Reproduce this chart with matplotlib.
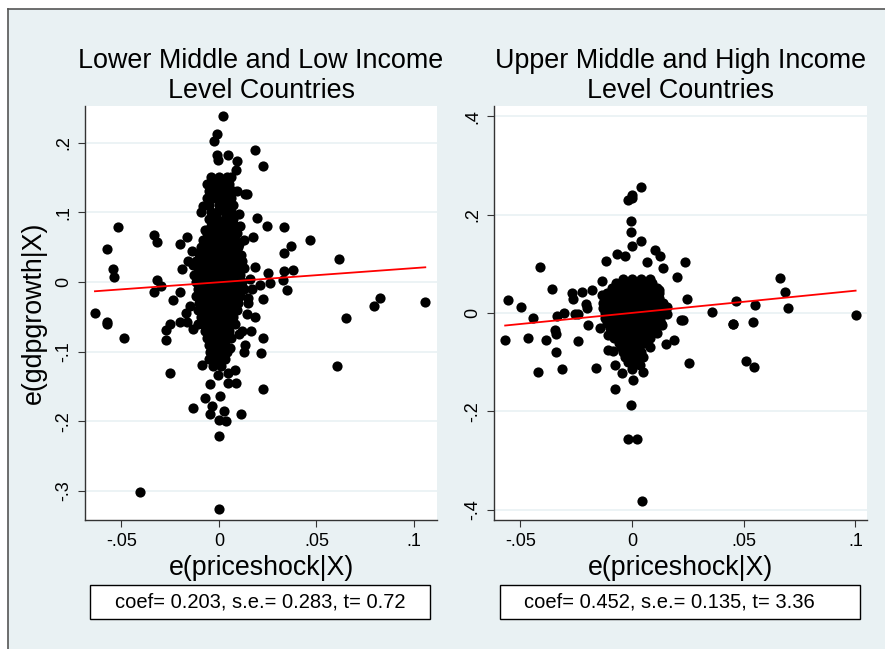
import matplotlib.pyplot as plt
import numpy as np
from matplotlib.patches import Rectangle

plt.rcParams['font.family'] = ['Liberation Sans', 'DejaVu Sans']

# ---- Lower middle and low income: points off the main cloud ----
low_x = [0.0019, -0.0009, -0.0024, 0.0186, 0.0224, 0.0046, -0.0009, -0.0005, 0.0094, 0.0085,
         0.0142, 0.0133, 0.0103, 0.0197, 0.0248, 0.0333, 0.0467, 0.0371, 0.0335, 0.0615,
         0.0381, 0.0333, 0.0326, 0.0350, 0.0174, 0.0101, 0.0111, -0.0518, -0.0573, -0.0545,
         -0.0537, -0.0332, -0.0320, -0.0320, -0.0333, -0.0296, -0.0636, -0.0573, 0.0650, 0.0797,
         0.0824, 0.1058, -0.0164, -0.0200, -0.0191, -0.0200, -0.0234, -0.0200, -0.0253, 0.0227,
         0.0185, 0.0144, 0.0151, 0.0185, 0.0251, 0.0210, 0.0262, -0.0080, -0.0072, -0.0132,
         -0.0576, -0.0486, -0.0272, -0.0272, -0.0166, -0.0132, -0.0250, -0.0132, -0.0405, -0.0002,
         0.0002, 0.0036, -0.0002, -0.0046, 0.0026, -0.0036, 0.0111, 0.0224, 0.0087, 0.0046,
         -0.0072, 0.0003, -0.0046, 0.0082, 0.0046, -0.0089, -0.0003, 0.0603, 0.0215, 0.0128,
         0.0133, 0.0227, 0.0162, 0.0104, 0.0056, -0.0046, -0.0014,
         -0.0140, -0.0160, -0.0150, -0.0170, 0.0160, 0.0150, 0.0170, 0.0130, 0.0110, -0.0090,
         0.0090, -0.0110, 0.0120]
low_y = [0.238, 0.212, 0.202, 0.190, 0.166, 0.182, 0.182, 0.175, 0.174, 0.160,
         0.126, 0.126, 0.097, 0.092, 0.081, 0.079, 0.060, 0.052, 0.041, 0.033,
         0.017, 0.016, 0.003, -0.011, 0.064, 0.055, 0.039, 0.079, 0.047, 0.019,
         0.007, 0.068, 0.057, 0.003, -0.014, -0.006, -0.044, -0.058, -0.051, -0.034,
         -0.023, -0.029, 0.064, 0.054, 0.019, -0.015, -0.026, -0.058, -0.060, -0.024,
         -0.050, -0.046, -0.023, 0.022, 0.013, -0.005, -0.001, 0.109, 0.075, 0.024,
         -0.060, -0.080, -0.069, -0.083, -0.058, -0.068, -0.131, -0.181, -0.301, -0.326,
         -0.221, -0.200, -0.198, -0.190, -0.185, -0.178, -0.190, -0.153, -0.145, -0.145,
         -0.166, -0.164, -0.147, -0.126, -0.131, -0.119, -0.133, -0.121, -0.102, -0.101,
         -0.090, -0.080, -0.071, -0.074, -0.094, -0.101, -0.108,
         0.045, 0.030, -0.035, -0.045, 0.005, -0.030, -0.010, 0.060, 0.080, 0.100,
         0.130, -0.060, -0.070]

# main cloud, read row by row: (y, [x values])
low_core = [
    (0.15, [-0.004, 0.000, 0.004, 0.006]),
    (0.14, [-0.006, -0.002, 0.002, 0.005]),
    (0.13, [-0.005, -0.001, 0.003, 0.007]),
    (0.12, [-0.006, -0.002, 0.002, 0.006]),
    (0.11, [-0.005, 0.000, 0.004, 0.007]),
    (0.10, [-0.004, -0.001, 0.003, 0.006]),
    (0.09, [-0.005, -0.001, 0.003, 0.007]),
    (0.08, [-0.004, 0.000, 0.004, 0.008]),
    (0.07, [-0.006, -0.002, 0.002, 0.006, 0.009]),
    (0.06, [-0.008, -0.004, 0.000, 0.004, 0.008]),
    (0.05, [-0.009, -0.005, -0.001, 0.003, 0.007, 0.010]),
    (0.04, [-0.010, -0.006, -0.002, 0.002, 0.006, 0.010]),
    (0.03, [-0.012, -0.008, -0.004, 0.000, 0.004, 0.008, 0.012]),
    (0.02, [-0.011, -0.007, -0.003, 0.001, 0.005, 0.009, 0.013]),
    (0.01, [-0.013, -0.009, -0.005, -0.001, 0.003, 0.007, 0.011]),
    (0.00, [-0.012, -0.008, -0.004, 0.000, 0.004, 0.008, 0.012]),
    (-0.01, [-0.011, -0.007, -0.003, 0.001, 0.005, 0.009, 0.013]),
    (-0.02, [-0.012, -0.008, -0.004, 0.000, 0.004, 0.008, 0.011]),
    (-0.03, [-0.010, -0.006, -0.002, 0.002, 0.006, 0.010]),
    (-0.04, [-0.011, -0.007, -0.003, 0.001, 0.005, 0.009]),
    (-0.05, [-0.009, -0.005, -0.001, 0.003, 0.007]),
    (-0.06, [-0.008, -0.004, 0.000, 0.004, 0.008]),
    (-0.07, [-0.007, -0.003, 0.001, 0.005]),
    (-0.08, [-0.006, -0.002, 0.002, 0.006]),
    (-0.09, [-0.005, -0.001, 0.003]),
    (-0.10, [-0.004, 0.000, 0.004]),
    (-0.11, [-0.005, -0.001, 0.003]),
    (-0.12, [-0.003, 0.001]),
]

# ---- Upper middle and high income ----
high_x = [0.0039, 0.0001, -0.0017, 0.0000, -0.0006, -0.0006, 0.0039, -0.0002, -0.0066, -0.0031,
          0.0103, 0.0125, 0.0237, 0.0137, 0.0066, -0.0116, -0.0412, 0.0200, 0.0662, 0.0685,
          0.0700, 0.0466, 0.0552, 0.0359, 0.1001, 0.0245, 0.0121, -0.0554, -0.0498, -0.0358,
          -0.0442, -0.0270, -0.0266, -0.0225, -0.0180, -0.0133, -0.0136, -0.0206, -0.0203, -0.0303,
          -0.0337, -0.0255, -0.0243, 0.0451, 0.0540, 0.0218, 0.0155, 0.0158, 0.0131, 0.0134,
          -0.0568, -0.0464, -0.0385, -0.0240, -0.0340, -0.0422, -0.0313, -0.0161, -0.0340, -0.0345,
          -0.0198, -0.0142, -0.0108, -0.0106, -0.0083, -0.0077, -0.0045, -0.0078, -0.0004, -0.0017,
          0.0021, 0.0043, 0.0003, 0.0051, 0.0036, -0.0001, 0.0081, 0.0152, 0.0188, 0.0257,
          0.0451, 0.0510, 0.0546, 0.0226, 0.0112, -0.0013]
high_y = [0.256, 0.240, 0.230, 0.233, 0.187, 0.165, 0.147, 0.137, 0.121, 0.116,
          0.128, 0.115, 0.104, 0.092, 0.104, 0.106, 0.094, 0.074, 0.071, 0.042,
          0.010, 0.025, 0.016, 0.003, -0.005, 0.028, 0.047, 0.026, 0.012, 0.049,
          -0.010, 0.040, 0.028, 0.042, 0.047, 0.065, 0.036, 0.018, 0.010, 0.001,
          -0.006, -0.003, -0.003, -0.022, -0.018, -0.014, 0.012, -0.002, -0.006, -0.024,
          -0.055, -0.050, -0.055, -0.057, -0.079, -0.121, -0.113, -0.111, -0.043, -0.035,
          -0.024, -0.030, -0.045, -0.075, -0.078, -0.155, -0.123, -0.106, -0.187, -0.257,
          -0.257, -0.383, -0.136, -0.119, -0.105, -0.113, -0.069, -0.064, -0.054, -0.101,
          -0.023, -0.097, -0.109, -0.015, -0.040, -0.095]

high_core = [
    (0.07, [-0.004, 0.000, 0.004, 0.008]),
    (0.06, [-0.007, -0.003, 0.001, 0.005, 0.009]),
    (0.05, [-0.009, -0.005, -0.001, 0.003, 0.007, 0.011]),
    (0.04, [-0.011, -0.007, -0.003, 0.001, 0.005, 0.009, 0.012]),
    (0.03, [-0.012, -0.008, -0.004, 0.000, 0.004, 0.008, 0.012]),
    (0.02, [-0.013, -0.009, -0.005, -0.001, 0.003, 0.007, 0.011, 0.014]),
    (0.01, [-0.013, -0.009, -0.005, -0.001, 0.003, 0.007, 0.011, 0.014]),
    (0.00, [-0.012, -0.008, -0.004, 0.000, 0.004, 0.008, 0.012]),
    (-0.01, [-0.012, -0.008, -0.004, 0.000, 0.004, 0.008, 0.012]),
    (-0.02, [-0.011, -0.007, -0.003, 0.001, 0.005, 0.009, 0.013]),
    (-0.03, [-0.010, -0.006, -0.002, 0.002, 0.006, 0.010]),
    (-0.04, [-0.009, -0.005, -0.001, 0.003, 0.007]),
    (-0.05, [-0.008, -0.004, 0.000, 0.004, 0.008]),
    (-0.06, [-0.006, -0.002, 0.002, 0.006]),
    (-0.07, [-0.005, -0.001, 0.003]),
    (-0.08, [-0.004, 0.000, 0.004]),
    (-0.09, [-0.003, 0.001, 0.005]),
    (-0.10, [-0.002, 0.002]),
]

# regression results
low_coef, low_const = 0.203, -0.0004
high_coef, high_const = 0.452, 0.0002
low_note = "coef= 0.203, s.e.= 0.283, t= 0.72"
high_note = "coef= 0.452, s.e.= 0.135, t= 3.36"

titles = ["Lower Middle and Low Income\nLevel Countries",
          "Upper Middle and High Income\nLevel Countries"]
low_yticks = [0.2, 0.1, 0.0, -0.1, -0.2, -0.3]
high_yticks = [0.4, 0.2, 0.0, -0.2, -0.4]
xticks = [-0.05, 0.0, 0.05, 0.1]


def stata_label(v):
    s = f"{v:g}"
    if s == "0" or s == "-0":
        return "0"
    return s.replace("0.", ".")


def expand(outer_x, outer_y, core):
    xs = list(outer_x)
    ys = list(outer_y)
    for yv, row in core:
        xs += row
        ys += [yv] * len(row)
    return np.array(xs), np.array(ys)


W, H = 885, 649
bg = "#e9f1f3"
fig = plt.figure(figsize=(W / 100, H / 100), dpi=100)
fig.patch.set_facecolor("white")
fig.patches.append(Rectangle((8 / W, 0), 1, 1 - 9 / H, transform=fig.transFigure,
                             facecolor=bg, edgecolor="none", zorder=-10))
fig.add_artist(plt.Line2D([8 / W, 8 / W], [0, 1 - 9 / H], color="#555555", lw=1.2))
fig.add_artist(plt.Line2D([8 / W, 1], [1 - 9 / H, 1 - 9 / H], color="#555555", lw=1.2))

ax1 = fig.add_axes([85 / W, 1 - 520 / H, 352 / W, 414 / H])
ax2 = fig.add_axes([494 / W, 1 - 520 / H, 373 / W, 414 / H])

panels = [
    (ax1, expand(low_x, low_y, low_core), low_coef, low_const, low_yticks,
     (-0.0687, 0.1118), (-0.3415, 0.2525), low_note, (90, 430), 115),
    (ax2, expand(high_x, high_y, high_core), high_coef, high_const, high_yticks,
     (-0.0618, 0.1052), (-0.421, 0.421), high_note, (500, 860), 524),
]

for i, (ax, (px, py), b, a, yt, xl, yl, note, box, tx) in enumerate(panels):
    ax.set_facecolor("white")
    for yv in yt:
        ax.axhline(yv, color=bg, lw=1.2, zorder=0)
    ax.scatter(px, py, s=54, c="black", linewidths=0, zorder=2)
    xf = np.array([px.min(), px.max()])
    ax.plot(xf, a + b * xf, color="red", lw=1.3, zorder=3)
    ax.set_xlim(xl)
    ax.set_ylim(yl)
    ax.set_xticks(xticks)
    ax.set_xticklabels([stata_label(v) for v in xticks], fontsize=13)
    ax.set_yticks(yt)
    ax.set_yticklabels([stata_label(v) for v in yt], fontsize=13, rotation=90, va="center")
    for s in ["top", "right"]:
        ax.spines[s].set_visible(False)
    for s in ["left", "bottom"]:
        ax.spines[s].set_color("#333333")
        ax.spines[s].set_linewidth(1.0)
    ax.tick_params(direction="out", length=5, color="#333333", pad=4)
    ax.set_title(titles[i], fontsize=19.4, pad=6, linespacing=1.2)
    ax.set_xlabel("e(priceshock|X)", fontsize=19.3, labelpad=4)

    # note box under each panel
    fig.add_artist(Rectangle((box[0] / W, 1 - 619 / H), (box[1] - box[0]) / W, 34 / H,
                             transform=fig.transFigure, facecolor="white",
                             edgecolor="black", lw=1.0))
    fig.text(tx / W, 1 - 602 / H, note, fontsize=14.5, ha="left", va="center")

ax1.set_ylabel("e(gdpgrowth|X)", fontsize=19.3, labelpad=6)

fig.savefig("out.png", dpi=100, facecolor=fig.get_facecolor())
